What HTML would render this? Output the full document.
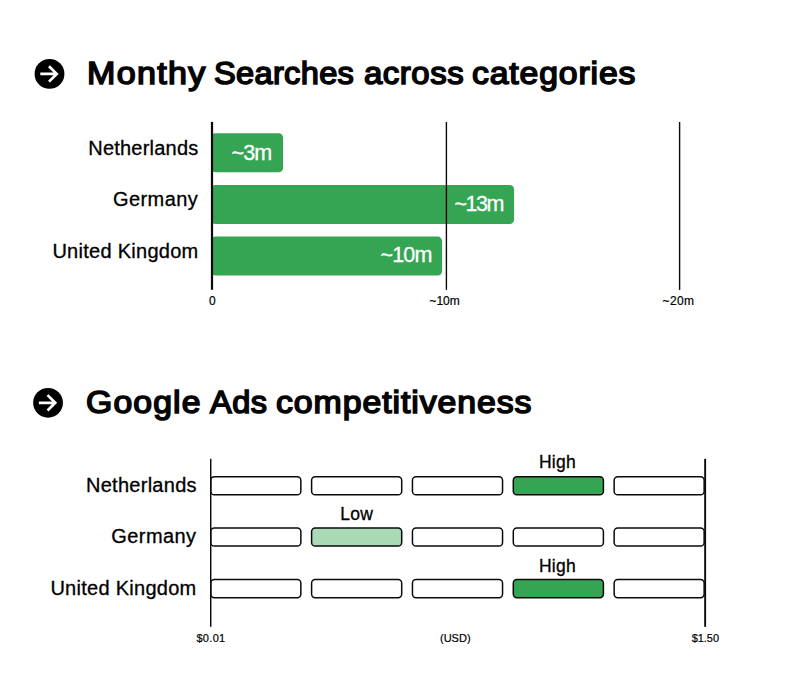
<!DOCTYPE html>
<html>
<head>
<meta charset="utf-8">
<style>
html,body{margin:0;padding:0;}
body{width:800px;height:700px;background:#fff;position:relative;overflow:hidden;font-family:"Liberation Sans",sans-serif;color:#000;}
svg.layer{position:absolute;left:0;top:0;}
.title{position:absolute;font-weight:normal;font-size:32px;white-space:nowrap;line-height:40px;color:#050505;-webkit-text-stroke:1.6px #050505;transform-origin:0 50%;}
.lbl{position:absolute;font-size:20px;white-space:nowrap;text-align:right;width:200px;line-height:24px;letter-spacing:0.15px;color:#000;-webkit-text-stroke:0.3px #000;}
.bart{position:absolute;color:#fff;font-size:21.5px;line-height:39px;white-space:nowrap;-webkit-text-stroke:0.3px #fff;}
.tick{position:absolute;white-space:nowrap;line-height:12px;text-align:center;width:80px;color:#000;-webkit-text-stroke:0.2px #000;}
.t1{font-size:12px;letter-spacing:0.4px;}
.t2{font-size:11px;}
.small{position:absolute;font-size:17.5px;white-space:nowrap;line-height:20px;text-align:center;width:90px;color:#000;-webkit-text-stroke:0.3px #000;}
</style>
</head>
<body>
<svg class="layer" width="800" height="700" viewBox="0 0 800 700">
<rect x="211" y="133.3" width="72.1" height="39" rx="4.5" fill="#35a554"/>
<rect x="211" y="185.0" width="303.1" height="39" rx="4.5" fill="#35a554"/>
<rect x="211" y="236.6" width="231.1" height="39" rx="4.5" fill="#35a554"/>
<rect x="210.9" y="121.9" width="2.2" height="167.9" fill="#0a0a0a"/>
<rect x="445.7" y="122" width="1.4" height="167.9" fill="#0a0a0a"/>
<rect x="678.9" y="122" width="1.4" height="167.9" fill="#0a0a0a"/>
<rect x="210.75" y="476.65" width="90.10" height="18.10" rx="3.6" fill="#fff" stroke="#0a0a0a" stroke-width="1.5"/>
<rect x="311.60" y="476.65" width="90.10" height="18.10" rx="3.6" fill="#fff" stroke="#0a0a0a" stroke-width="1.5"/>
<rect x="412.45" y="476.65" width="90.10" height="18.10" rx="3.6" fill="#fff" stroke="#0a0a0a" stroke-width="1.5"/>
<rect x="513.30" y="476.65" width="90.10" height="18.10" rx="3.6" fill="#35a554" stroke="#0a0a0a" stroke-width="1.5"/>
<rect x="614.15" y="476.65" width="90.00" height="18.10" rx="3.6" fill="#fff" stroke="#0a0a0a" stroke-width="1.5"/>
<rect x="210.75" y="527.95" width="90.10" height="18.10" rx="3.6" fill="#fff" stroke="#0a0a0a" stroke-width="1.5"/>
<rect x="311.60" y="527.95" width="90.10" height="18.10" rx="3.6" fill="#a8dab5" stroke="#0a0a0a" stroke-width="1.5"/>
<rect x="412.45" y="527.95" width="90.10" height="18.10" rx="3.6" fill="#fff" stroke="#0a0a0a" stroke-width="1.5"/>
<rect x="513.30" y="527.95" width="90.10" height="18.10" rx="3.6" fill="#fff" stroke="#0a0a0a" stroke-width="1.5"/>
<rect x="614.15" y="527.95" width="90.00" height="18.10" rx="3.6" fill="#fff" stroke="#0a0a0a" stroke-width="1.5"/>
<rect x="210.75" y="579.55" width="90.10" height="18.10" rx="3.6" fill="#fff" stroke="#0a0a0a" stroke-width="1.5"/>
<rect x="311.60" y="579.55" width="90.10" height="18.10" rx="3.6" fill="#fff" stroke="#0a0a0a" stroke-width="1.5"/>
<rect x="412.45" y="579.55" width="90.10" height="18.10" rx="3.6" fill="#fff" stroke="#0a0a0a" stroke-width="1.5"/>
<rect x="513.30" y="579.55" width="90.10" height="18.10" rx="3.6" fill="#35a554" stroke="#0a0a0a" stroke-width="1.5"/>
<rect x="614.15" y="579.55" width="90.00" height="18.10" rx="3.6" fill="#fff" stroke="#0a0a0a" stroke-width="1.5"/>
<rect x="210" y="458.8" width="1.45" height="168" fill="#0a0a0a"/>
<rect x="704.2" y="458.8" width="1.9" height="168" fill="#0a0a0a"/>
<circle cx="49.5" cy="73.9" r="14.9" fill="#000"/><path d="M40.30 73.9 H56.70 M49.00 66.20 L56.70 73.9 L49.00 81.60" stroke="#fff" stroke-width="2.7" fill="none" stroke-linejoin="miter"/>
<circle cx="48.05" cy="402.8" r="14.9" fill="#000"/><path d="M38.85 402.8 H55.25 M47.55 395.10 L55.25 402.8 L47.55 410.50" stroke="#fff" stroke-width="2.7" fill="none" stroke-linejoin="miter"/>
</svg>
<div class="title" style="left:87.17px;top:53px;letter-spacing:1.26px;transform:scaleX(1.0644);">Monthy</div>
<div class="title" style="left:214.3px;top:53px;letter-spacing:0.3px;transform:scaleX(1.0190);">Searches</div>
<div class="title" style="left:363.60px;top:53px;letter-spacing:0.52px;transform:scaleX(1.0287);">across</div>
<div class="title" style="left:472.40px;top:53px;letter-spacing:0.83px;transform:scaleX(1.0534);">categories</div>
<div class="title" style="left:85.69px;top:382px;letter-spacing:1.07px;transform:scaleX(1.0551);">Google</div>
<div class="title" style="left:209.62px;top:382px;letter-spacing:0.44px;transform:scaleX(1.0161);">Ads</div>
<div class="title" style="left:276.10px;top:382px;letter-spacing:0.88px;transform:scaleX(1.0568);">competitiveness</div>

<div class="lbl" style="left:-1.5px;top:136.4px;letter-spacing:0.22px;">Netherlands</div>
<div class="lbl" style="left:-1.7px;top:187.3px;letter-spacing:0.45px;">Germany</div>
<div class="lbl" style="left:-1.5px;top:238.6px;letter-spacing:0.27px;">United Kingdom</div>

<div class="bart" style="left:231.5px;top:134px;letter-spacing:-0.83px;">~3m</div>
<div class="bart" style="left:454.5px;top:185px;letter-spacing:-1.5px;">~13m</div>
<div class="bart" style="left:380.5px;top:236px;letter-spacing:-0.83px;">~10m</div>

<div class="tick t1" style="left:172.5px;top:294.5px;">0</div>
<div class="tick t1" style="left:404.6px;top:294.5px;letter-spacing:-0.1px;">~10m</div>
<div class="tick t1" style="left:638.5px;top:294.5px;">~20m</div>


<div class="lbl" style="left:-3.2px;top:473.4px;letter-spacing:0.27px;">Netherlands</div>
<div class="lbl" style="left:-3.5px;top:524.2px;letter-spacing:0.42px;">Germany</div>
<div class="lbl" style="left:-3.5px;top:575.8px;letter-spacing:0.27px;">United Kingdom</div>

<div class="small" style="left:512.5px;top:452.3px;letter-spacing:0.3px;">High</div>
<div class="small" style="left:311.8px;top:504.3px;letter-spacing:0.3px;">Low</div>
<div class="small" style="left:512.5px;top:556.3px;letter-spacing:0.3px;">High</div>

<div class="tick t2" style="left:196.4px;top:632px;letter-spacing:0.33px;text-align:left;">$0.01</div>
<div class="tick t2" style="left:415.3px;top:632px;">(USD)</div>
<div class="tick t2" style="left:691.7px;top:632px;letter-spacing:-0.05px;text-align:left;">$1.50</div>
</body>
</html>
